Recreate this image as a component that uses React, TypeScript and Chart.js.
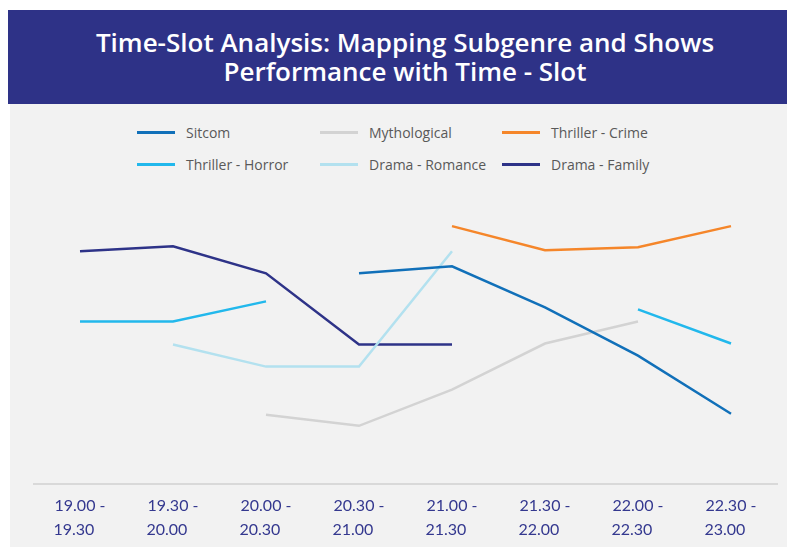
import React, { useEffect, useRef } from "react";
import { Chart, registerables } from "chart.js";
Chart.register(...registerables);

const slotStarts = ["19.00", "19.30", "20.00", "20.30", "21.00", "21.30", "22.00", "22.30"];
const slotEnds = ["19.30", "20.00", "20.30", "21.00", "21.30", "22.00", "22.30", "23.00"];

const seriesNames = ["Sitcom", "Mythological", "Thriller - Crime", "Thriller - Horror", "Drama - Romance", "Drama - Family"];
const seriesColors = ["#1170b9", "#d3d3d3", "#f5862a", "#22b8ec", "#b3e1ef", "#2e3388"];

const sitcom = [null, null, null, 2.10, 2.17, 1.76, 1.28, 0.70];
const mythological = [null, null, 0.69, 0.58, 0.94, 1.40, 1.62, null];
const thrillerCrime = [null, null, null, null, 2.57, 2.33, 2.36, 2.57];
const thrillerHorror = [1.62, 1.62, 1.82, null, null, null, 1.74, 1.40];
const dramaRomance = [null, 1.39, 1.17, 1.17, 2.32, null, null, null];
const dramaFamily = [2.32, 2.37, 2.10, 1.39, 1.39, null, null, null];

const seriesValues = [sitcom, mythological, thrillerCrime, thrillerHorror, dramaRomance, dramaFamily];

const TITLE = ["Time-Slot Analysis: Mapping Subgenre and Shows", "Performance with Time - Slot"];

export default function App() {
  const ref = useRef<HTMLCanvasElement | null>(null);

  useEffect(() => {
    if (!ref.current) return;
    const labels = slotStarts.map((s, i) => [s + " -", slotEnds[i] + "   "]);
    const chart = new Chart(ref.current, {
      type: "line",
      data: {
        labels,
        datasets: seriesNames.map((name, i) => ({
          label: name,
          data: seriesValues[i],
          borderColor: seriesColors[i],
          backgroundColor: seriesColors[i],
          borderWidth: 2.5,
          pointRadius: 0,
          pointHoverRadius: 0,
          tension: 0,
          spanGaps: false,
          fill: false,
        })),
      },
      options: {
        animation: false,
        responsive: false,
        layout: { padding: { left: 23.5, right: 9.5, top: 8, bottom: 0 } },
        plugins: { legend: { display: false }, tooltip: { enabled: false }, title: { display: false } },
        scales: {
          x: {
            offset: true,
            grid: { display: false, drawTicks: false },
            border: { display: true, color: "#d9d9d9", width: 2 },
            ticks: {
              color: "#34388f",
              font: { family: "Lato", size: 16, lineHeight: 1.5 },
              padding: 10,
              maxRotation: 0,
              autoSkip: false,
            },
          },
          y: { display: false, min: 0, max: 3 },
        },
      },
    });
    return () => chart.destroy();
  }, []);

  return (
    <div style={{ position: "fixed", left: 0, top: 0, width: 787, height: 547, overflow: "hidden", background: "#ffffff" }}>
      <div
        style={{
          position: "absolute", left: 8, top: 10, width: 794, height: 94, background: "#2e3287",
          color: "#ffffff", fontFamily: "'Open Sans', sans-serif", fontWeight: 600, fontSize: 26,
          lineHeight: "29px", textAlign: "center", display: "flex", flexDirection: "column", justifyContent: "center",
        }}
      >
        {TITLE.map((t) => (<div key={t}>{t}</div>))}
      </div>
      <div style={{ position: "absolute", left: 10, top: 104, width: 790, height: 450, background: "#f2f2f2" }} />
      <div
        style={{
          position: "absolute", left: 137, top: 116, display: "grid", gridTemplateColumns: "183px 182px 182px",
          gridAutoRows: "32px", fontFamily: "'Open Sans', sans-serif", fontSize: 14, color: "#595959",
        }}
      >
        {seriesNames.map((name, i) => (
          <div key={name} style={{ display: "flex", alignItems: "center" }}>
            <div style={{ width: 38, height: 3, background: seriesColors[i], marginRight: 11 }} />
            <span>{name}</span>
          </div>
        ))}
      </div>
      <canvas ref={ref} width={777} height={377} style={{ position: "absolute", left: 10, top: 175, width: 777, height: 377 }} />
    </div>
  );
}
